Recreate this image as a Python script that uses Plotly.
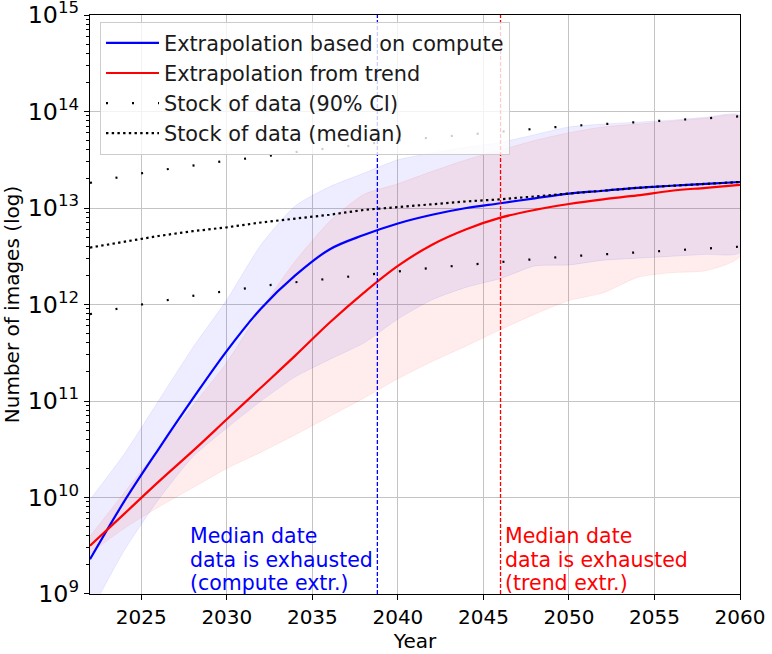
import plotly.graph_objects as go

# ---- data ----
years = [2022, 2024, 2026, 2028, 2030, 2032, 2034, 2036, 2038, 2040,
         2042, 2044, 2046, 2048, 2050, 2052, 2054, 2056, 2058, 2060]

# median projections of images used for training
compute_median = [2.29e9, 9.1e9, 3.16e10, 1.05e11, 3.31e11, 9.1e11, 2.0e12, 3.72e12, 5.25e12, 6.92e12,
                  8.51e12, 1.0e13, 1.12e13, 1.26e13, 1.41e13, 1.51e13, 1.62e13, 1.70e13, 1.78e13, 1.86e13]
trend_median = [3.16e9, 6.76e9, 1.45e10, 3.02e10, 6.46e10, 1.38e11, 2.95e11, 6.46e11, 1.32e12, 2.51e12,
                4.17e12, 6.03e12, 7.94e12, 9.55e12, 1.10e13, 1.23e13, 1.35e13, 1.51e13, 1.62e13, 1.74e13]

# 90% bands of the projections
compute_low = [6.3e8, 2.82e9, 9.5e9, 2.63e10, 5.25e10, 1.0e11, 1.78e11, 2.69e11, 3.98e11, 7.08e11,
               1.12e12, 1.51e12, 1.86e12, 2.51e12, 2.57e12, 2.88e12, 3.02e12, 3.16e12, 3.31e12, 3.47e12]
compute_high = [9.5e9, 2.82e10, 1.0e11, 3.55e11, 1.12e12, 4.17e12, 1.05e13, 1.66e13, 2.29e13, 3.16e13,
                3.72e13, 4.27e13, 4.79e13, 5.75e13, 6.92e13, 7.41e13, 7.76e13, 8.13e13, 8.71e13, 9.12e13]
trend_low = [2.63e9, 4.79e9, 7.94e9, 1.26e10, 2.0e10, 2.95e10, 4.47e10, 6.92e10, 1.07e11, 1.70e11,
             2.57e11, 3.72e11, 5.5e11, 7.94e11, 1.10e12, 1.32e12, 1.91e12, 2.14e12, 2.24e12, 3.16e12]
trend_high = [3.98e9, 1.12e10, 3.16e10, 8.9e10, 2.51e11, 8.9e11, 2.82e12, 7.24e12, 1.38e13, 1.78e13,
              2.40e13, 3.16e13, 3.98e13, 5.01e13, 6.03e13, 6.92e13, 7.41e13, 7.94e13, 8.51e13, 8.91e13]

# stock of image data
stock_median = [3.89e12, 4.47e12, 5.13e12, 5.75e12, 6.31e12, 7.08e12, 7.76e12, 8.51e12, 9.55e12, 1.02e13,
                1.10e13, 1.17e13, 1.23e13, 1.32e13, 1.41e13, 1.51e13, 1.62e13, 1.70e13, 1.78e13, 1.86e13]
stock_low = [7.94e11, 9.33e11, 1.07e12, 1.23e12, 1.38e12, 1.55e12, 1.70e12, 1.86e12, 2.0e12, 2.19e12,
             2.40e12, 2.57e12, 2.75e12, 2.95e12, 3.16e12, 3.31e12, 3.47e12, 3.63e12, 3.80e12, 3.98e12]
stock_high = [1.82e13, 2.14e13, 2.45e13, 2.75e13, 3.09e13, 3.39e13, 3.80e13, 4.17e13, 4.57e13, 5.01e13,
              5.37e13, 5.75e13, 6.17e13, 6.61e13, 7.08e13, 7.41e13, 7.76e13, 8.13e13, 8.51e13, 8.91e13]

# median exhaustion dates
compute_exhausted = 2038.8
trend_exhausted = 2046.0

x_ticks = [2025, 2030, 2035, 2040, 2045, 2050, 2055, 2060]

FONT = "DejaVu Sans"
LINE_GAP = 23.8  # px between text lines of the notes

fig = go.Figure()

# bands (closed polygons)
for low, high, col in [(compute_low, compute_high, "rgba(0,0,255,0.07)"),
                       (trend_low, trend_high, "rgba(255,0,0,0.07)")]:
    fig.add_trace(go.Scatter(
        x=years + years[::-1], y=high + low[::-1],
        fill="toself", fillcolor=col, mode="lines",
        line=dict(color=col, width=1, shape="spline", smoothing=0.6),
        hoverinfo="skip", showlegend=False,
    ))

fig.add_trace(go.Scatter(x=years, y=compute_median, mode="lines", line=dict(color="blue", width=2.2, shape="spline"),
                         name="Extrapolation based on compute"))
fig.add_trace(go.Scatter(x=years, y=trend_median, mode="lines", line=dict(color="red", width=2.2, shape="spline"),
                         name="Extrapolation from trend"))
fig.add_trace(go.Scatter(x=years, y=stock_high, mode="lines", line=dict(color="black", width=2.2, dash="2px,24px"),
                         name="Stock of data (90% CI)", legendgroup="ci"))
fig.add_trace(go.Scatter(x=years, y=stock_low, mode="lines", line=dict(color="black", width=2.2, dash="2px,24px"),
                         name="Stock of data (90% CI)", legendgroup="ci", showlegend=False))
fig.add_trace(go.Scatter(x=years, y=stock_median, mode="lines", line=dict(color="black", width=2.2, dash="2.4px,3.3px"),
                         name="Stock of data (median)"))

for date, col in [(compute_exhausted, "blue"), (trend_exhausted, "red")]:
    fig.add_shape(type="line", x0=date, x1=date, xref="x", y0=0, y1=1, yref="paper",
                  line=dict(color=col, width=1.3, dash="4px,2px"))

notes = [
    (compute_exhausted - 11, "blue", ["Median date", "data is exhausted", "(compute extr.)"]),
    (trend_exhausted + 0.2, "red", ["Median date", "data is exhausted", "(trend extr.)"]),
]
for x_pos, col, lines in notes:
    for i, line in enumerate(lines):
        fig.add_annotation(x=x_pos, y=9, xref="x", yref="y", xanchor="left", yanchor="middle",
                           xshift=-1, yshift=10.5 + (len(lines) - 1 - i) * LINE_GAP, showarrow=False, text=line,
                           font=dict(family=FONT, size=20.5, color=col))

fig.update_layout(
    width=772, height=654,
    margin=dict(l=90, r=32, t=15, b=60),
    paper_bgcolor="white", plot_bgcolor="white",
    font=dict(family=FONT, size=20, color="black"),
    showlegend=True,
    legend=dict(x=0.0154, y=0.988, xanchor="left", yanchor="top", tracegroupgap=0, itemwidth=53,
                bgcolor="rgba(255,255,255,0.8)", bordercolor="#cccccc", borderwidth=1,
                font=dict(family=FONT, size=20.8, color="#1a1a1a")),
    xaxis=dict(
        range=[2022, 2060], tickvals=x_ticks, automargin=False,
        title=dict(text="Year", font=dict(size=20), standoff=2),
        showgrid=True, gridcolor="#c4c4c4", gridwidth=1,
        showline=True, mirror=True, linecolor="black", linewidth=1.3,
        ticks="outside", ticklen=5, tickcolor="black", zeroline=False,
    ),
    yaxis=dict(
        type="log", range=[8.9999, 15.0001], dtick=1, exponentformat="power", showexponent="all",
        automargin=False, ticklabeloverflow="allow", ticklabelstandoff=1,
        tickfont=dict(size=19),
        title=dict(text="Number of images (log)", font=dict(size=20), standoff=2),
        showgrid=True, gridcolor="#c4c4c4", gridwidth=1,
        showline=True, mirror=True, linecolor="black", linewidth=1.3,
        ticks="outside", ticklen=5, tickcolor="black", zeroline=False,
        minor=dict(ticks="outside", ticklen=3, tickcolor="black", dtick="D1", showgrid=False),
    ),
)

# drop the page's default 8px body margin so the figure fills the window exactly
fig.write_html("out.html", config={"displayModeBar": False},
               post_script="document.body.style.margin = '0';")
